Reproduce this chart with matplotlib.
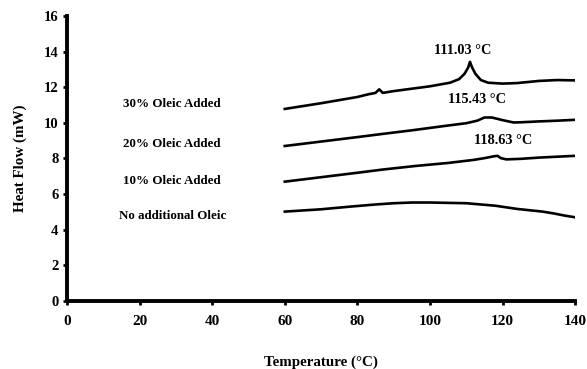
import matplotlib
matplotlib.use("Agg")
import matplotlib.pyplot as plt

# ---- data ----
t_none = [60, 70, 78, 85, 90, 95, 100, 110, 118, 124, 131, 134, 137, 140]
v_none = [5.02, 5.15, 5.30, 5.42, 5.49, 5.53, 5.53, 5.49, 5.35, 5.17, 5.02, 4.92, 4.80, 4.70]

t_10 = [60, 70, 80, 87, 96, 105, 112, 115, 117.5, 118.6, 119.5, 121, 125, 130, 135, 140]
v_10 = [6.70, 6.95, 7.20, 7.38, 7.58, 7.75, 7.92, 8.02, 8.12, 8.15, 8.02, 7.95, 7.98, 8.05, 8.10, 8.15]

t_20 = [60, 70, 80, 87, 95, 105, 110, 113, 115, 117, 120, 123, 125, 130, 135, 140]
v_20 = [8.70, 8.95, 9.20, 9.38, 9.58, 9.85, 9.98, 10.12, 10.30, 10.30, 10.15, 10.02, 10.03, 10.08, 10.12, 10.17]

t_30 = [60, 70, 80, 83, 85, 86, 87, 90, 100, 105.5, 108, 109.5, 110.5, 111, 111.6, 112.5, 114, 116, 120, 124, 130, 135, 140]
v_30 = [10.78, 11.10, 11.45, 11.60, 11.68, 11.88, 11.68, 11.78, 12.05, 12.25, 12.45, 12.75, 13.10, 13.42, 13.10, 12.75, 12.40, 12.25, 12.20, 12.23, 12.35, 12.40, 12.38]

series_labels = ["30% Oleic Added", "20% Oleic Added", "10% Oleic Added", "No additional Oleic"]
label_y = [11.05, 8.8, 6.75, 4.75]
label_x = 29

peak_labels = ["111.03 °C", "115.43 °C", "118.63 °C"]
peak_x = [109, 113, 120]
peak_y = [14.05, 11.3, 9.0]

xticks = [0, 20, 40, 60, 80, 100, 120, 140]
yticks = [0, 2, 4, 6, 8, 10, 12, 14, 16]

# ---- plot ----
plt.rcParams['font.family'] = ['Liberation Serif', 'DejaVu Serif']
plt.rcParams['font.weight'] = 'bold'

fig = plt.figure(figsize=(5.87, 3.69), dpi=100)
ax = fig.add_axes([0.114, 0.184, 0.866, 0.773])

for t, v in [(t_none, v_none), (t_10, v_10), (t_20, v_20), (t_30, v_30)]:
    ax.plot(t, v, color='black', lw=1.9, solid_joinstyle='round')

for s, y in zip(series_labels, label_y):
    ax.text(label_x, y, s, ha='center', va='center', fontsize=9.4, fontweight='bold')

for s, x, y in zip(peak_labels, peak_x, peak_y):
    ax.text(x, y, s, ha='center', va='center', fontsize=10.3, fontweight='bold')

ax.set_xlim(0, 140)
ax.set_ylim(0, 16)
ax.set_xticks(xticks)
ax.set_yticks(yticks)
ax.set_xticklabels([str(x) for x in xticks], fontsize=11, fontweight='bold')
ax.set_yticklabels([str(y) for y in yticks], fontsize=10.5, fontweight='bold')
ax.tick_params(axis='x', direction='out', length=3, width=2, pad=7)
ax.tick_params(axis='y', direction='out', length=3, width=2, pad=3)
for sp in ['top', 'right']:
    ax.spines[sp].set_visible(False)
for sp in ['left', 'bottom']:
    ax.spines[sp].set_linewidth(2.8)

ax.set_xlabel("Temperature (°C)", fontsize=10.8, fontweight='bold', labelpad=20)
ax.set_ylabel("Heat Flow (mW)", fontsize=10.8, fontweight='bold', labelpad=12)

fig.savefig("out.png", dpi=100)
